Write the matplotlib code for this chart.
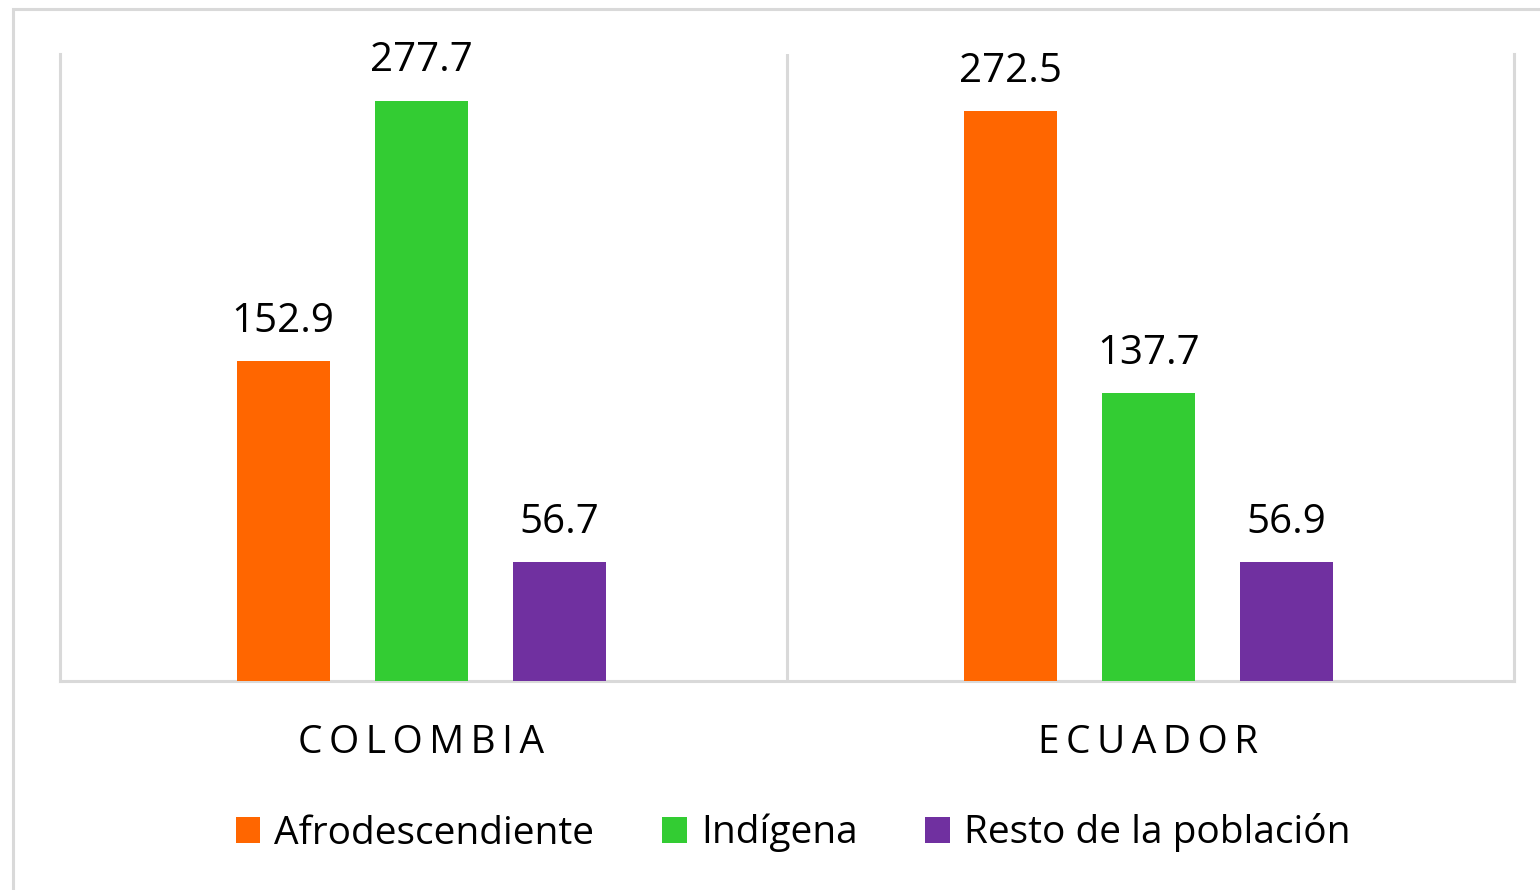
import matplotlib
matplotlib.use("Agg")
import matplotlib.pyplot as plt
from matplotlib.patches import Patch, Rectangle
from matplotlib.transforms import blended_transform_factory
import numpy as np

countries = ["COLOMBIA", "ECUADOR"]
series = ["Afrodescendiente", "Indígena", "Resto de la población"]
afro = [152.9, 272.5]
indigena = [277.7, 137.7]
resto = [56.7, 56.9]
colors = ["#FF6600", "#33CC33", "#7030A0"]

plt.rcParams['font.family'] = ['Open Sans', 'DejaVu Sans']
FS_VAL = 29
FS_CAT = 28
FS_LEG = 28

fig = plt.figure(figsize=(15.4, 8.9), dpi=100)
ax = fig.add_axes([60/1540, 1-681/890, (1514-60)/1540, (681-54)/890])

x = np.arange(len(countries))
width = 0.128
offsets = [-0.193, -0.003, 0.187]
values = [afro, indigena, resto]
for vals, off, col in zip(values, offsets, colors):
    bars = ax.bar(x + off, vals, width=width, color=col, zorder=3)
    for b, v in zip(bars, vals):
        ax.annotate(f"{v:.1f}", (b.get_x() + b.get_width()/2, v),
                    xytext=(0, 21), textcoords="offset points",
                    ha="center", va="baseline", fontsize=FS_VAL, color="black")

ax.set_xlim(-0.5, 1.5)
ax.set_ylim(0, 300)
ax.set_xticks([])
ax.set_yticks([])
gray = "#D9D9D9"
for s in ["left", "right", "bottom"]:
    ax.spines[s].set_color(gray)
    ax.spines[s].set_linewidth(2.2)
ax.spines["top"].set_visible(False)
ax.axvline(0.5, color=gray, lw=2.2, zorder=1)

thin = "\u2009"
trans = blended_transform_factory(ax.transData, fig.transFigure)
for xi, name in zip(x, countries):
    ax.text(xi - 0.003, 1 - 753/890, thin.join(name), transform=trans,
            ha="center", va="baseline", fontsize=FS_CAT, color="black")

handles = [Patch(facecolor=c, edgecolor="none") for c in colors]
fig.legend(handles, series, loc="center", bbox_to_anchor=(0.515, 1 - 833/890),
           ncol=3, frameon=False, fontsize=FS_LEG, handlelength=0.63,
           handleheight=0.63, handletextpad=0.36, columnspacing=1.75)

fig.add_artist(Rectangle((13/1540, -0.2), 1.2, 0.2 + (1 - 9/890),
                         transform=fig.transFigure, fill=False,
                         edgecolor=gray, linewidth=2.2))

fig.savefig("out.png", dpi=100)
